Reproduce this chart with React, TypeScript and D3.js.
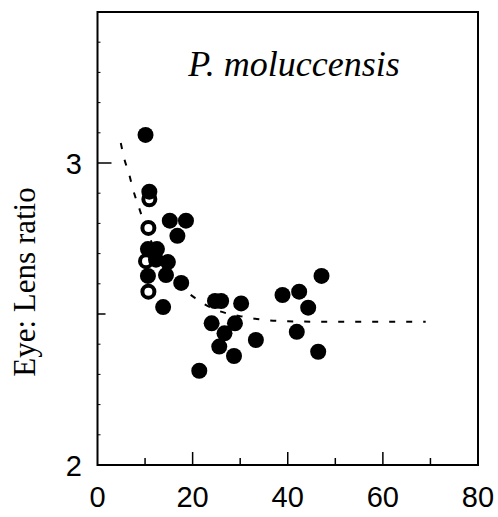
import React from "react";
import * as d3 from "d3";

const filledX = [10.1, 10.9, 15.2, 18.6, 16.8, 10.6, 12.5, 12.3, 14.8, 10.6, 14.4, 17.6, 13.8, 24.7, 26.0, 30.2, 24.0, 28.9, 26.7, 25.6, 28.7, 33.3, 21.4, 47.1, 38.9, 42.4, 44.3, 41.9, 46.4];
const filledY = [3.093, 2.905, 2.809, 2.809, 2.759, 2.715, 2.715, 2.68, 2.672, 2.626, 2.629, 2.603, 2.523, 2.543, 2.543, 2.535, 2.469, 2.469, 2.436, 2.392, 2.361, 2.414, 2.312, 2.626, 2.563, 2.574, 2.521, 2.441, 2.375];
const openX = [10.9, 10.7, 10.2, 10.7];
const openY = [2.88, 2.785, 2.675, 2.574];
const curveX = [4.9, 5.7, 6.6, 7.5, 8.9, 10.5, 12, 15, 18.8, 20.5, 24, 27.2, 31, 35.2, 40, 50, 60, 69];
const curveY = [3.066, 3.01, 2.966, 2.911, 2.844, 2.77, 2.717, 2.641, 2.573, 2.553, 2.52, 2.502, 2.49, 2.48, 2.476, 2.474, 2.474, 2.474];
const xTickLabels = [0, 20, 40, 60, 80];
const xMinorTicks = [10, 30, 50, 70];
const yTickLabels = [2, 3];
const title = "P. moluccensis";
const yTitle = "Eye: Lens ratio";

export default function App() {
  const x = d3.scaleLinear().domain([0, 80]).range([97.5, 478]);
  const y = d3.scaleLinear().domain([2, 3.5]).range([465, 12]);
  const line = d3
    .line<number>()
    .x((_, i) => x(curveX[i]))
    .y((d) => y(d))
    .curve(d3.curveMonotoneX);
  const yMinor = d3.range(21, 35).map((v) => v / 10).filter((v) => Math.abs(v - 2.5) > 1e-6 && Math.abs(v - 3) > 1e-6);
  const sans = "'Liberation Sans', Arial, sans-serif";
  const serif = "'Liberation Serif', 'Times New Roman', serif";
  return (
    <svg width={498} height={517} style={{ position: "absolute", left: 0, top: 0, background: "#fff" }}>
      <rect x={x(0)} y={y(3.5)} width={x(80) - x(0)} height={y(2) - y(3.5)} fill="none" stroke="#000" strokeWidth={2} />
      {xTickLabels.slice(1, -1).map((t) => (
        <line key={"xt" + t} x1={x(t)} x2={x(t)} y1={y(2)} y2={y(2) - 13} stroke="#000" strokeWidth={1.5} />
      ))}
      {xMinorTicks.map((t) => (
        <line key={"xm" + t} x1={x(t)} x2={x(t)} y1={y(2)} y2={y(2) - 7} stroke="#000" strokeWidth={1.5} />
      ))}
      {xTickLabels.map((t) => (
        <text key={"xl" + t} x={x(t)} y={507} textAnchor="middle" fontFamily={sans} fontSize={29}>{t}</text>
      ))}
      <line x1={x(0)} x2={x(0) + 14} y1={y(3)} y2={y(3)} stroke="#000" strokeWidth={1.5} />
      <line x1={x(0)} x2={x(0) + 8} y1={y(2.5)} y2={y(2.5)} stroke="#000" strokeWidth={1.5} />
      {yMinor.map((t) => (
        <line key={"ym" + t} x1={x(0)} x2={x(0) + 3} y1={y(t)} y2={y(t)} stroke="#000" strokeWidth={1} />
      ))}
      {yTickLabels.map((t) => (
        <text key={"yl" + t} x={82} y={y(t) + 11} textAnchor="end" fontFamily={sans} fontSize={29}>{t}</text>
      ))}
      <text x={294} y={76} textAnchor="middle" fontFamily={serif} fontStyle="italic" fontSize={36}>{title}</text>
      <text transform={`translate(35, 282) rotate(-90)`} textAnchor="middle" fontFamily={serif} fontSize={31}>{yTitle}</text>
      <path d={line(curveY) || ""} fill="none" stroke="#000" strokeWidth={2} strokeDasharray="6 11" />
      {openX.map((v, i) => (
        <circle key={"o" + i} cx={x(v)} cy={y(openY[i])} r={6} fill="#fff" stroke="#000" strokeWidth={4} />
      ))}
      {filledX.map((v, i) => (
        <circle key={"f" + i} cx={x(v)} cy={y(filledY[i])} r={8} fill="#000" />
      ))}
    </svg>
  );
}
